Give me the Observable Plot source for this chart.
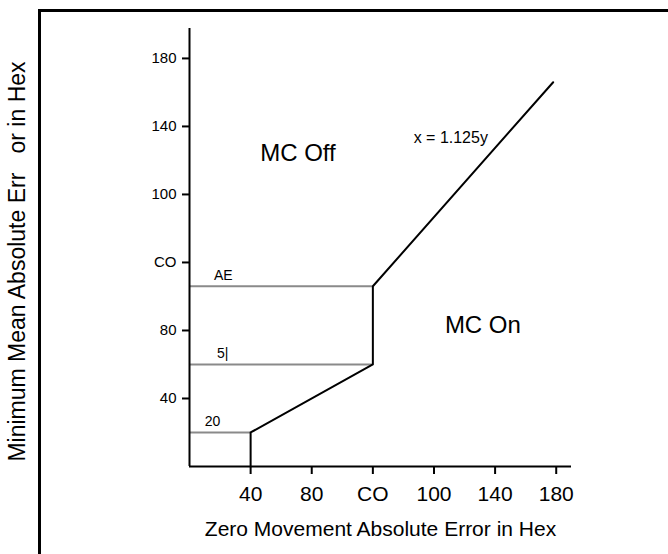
<!DOCTYPE html>
<html><head><meta charset="utf-8">
<script src="https://cdn.jsdelivr.net/npm/d3@7"></script>
<script src="https://cdn.jsdelivr.net/npm/@observablehq/plot@0.6"></script>
<style>
body{margin:0;background:#fff;}
#wrap{position:relative;width:668px;height:554px;overflow:hidden;background:#fff;}
#border{position:absolute;left:38px;top:9px;width:700px;height:600px;border-left:3px solid #000;border-top:3px solid #000;}
#chart{position:absolute;left:0;top:0;}
</style></head><body>
<div id="wrap"><div id="border"></div><div id="chart"></div></div>
<script>
// Tick positions (in chart units) and their printed labels
const xTickValues = [40, 80, 120, 160, 200, 240];
const xTickLabels = ["40", "80", "CO", "100", "140", "180"];
const yTickValues = [40, 80, 120, 160, 200, 240];
const yTickLabels = ["40", "80", "CO", "100", "140", "180"];
const xAxisTitle = "Zero Movement Absolute Error in Hex";
const yAxisTitle = ["Minimum Mean Absolute Err\u00a0\u00a0\u00a0or in Hex"];

// Decision boundary polyline
const boundaryX = [40, 40, 120, 120, 238];
const boundaryY = [0, 20, 60, 106, 226];

// Threshold levels (gray horizontal lines) and labels
const levelY = [20, 60, 106];
const levelXEnd = [40, 120, 120];
const levelLabels = ["20", "5|", "AE"];
const levelLabelX = [10, 18, 16];

// Region labels
const regionLabels = ["MC Off", "MC On"];
const regionX = [71, 192];
const regionY = [184, 83];

// Equation label
const eqLabels = ["x = 1.125y"];
const eqX = [171];
const eqY = [193];

const font = "'Liberation Sans', Arial, sans-serif";
const boundary = boundaryX.map((x, i) => ({x, y: boundaryY[i]}));
const levels = levelY.map((y, i) => ({y, x2: levelXEnd[i], label: levelLabels[i], lx: levelLabelX[i]}));
const regions = regionLabels.map((t, i) => ({t, x: regionX[i], y: regionY[i]}));
const eqs = eqLabels.map((t, i) => ({t, x: eqX[i], y: eqY[i]}));

const chart = Plot.plot({
  width: 668, height: 554,
  marginLeft: 189, marginRight: 97, marginTop: 28, marginBottom: 88,
  style: {fontFamily: font, background: "transparent", color: "#000"},
  x: {domain: [0, 250]},
  y: {domain: [0, 257.6]},
  marks: [
    Plot.ruleY(levels, {y: "y", x1: 0, x2: "x2", stroke: "#8a8a8a", strokeWidth: 2}),
    Plot.line(boundary, {x: "x", y: "y", stroke: "#000", strokeWidth: 2}),
    Plot.ruleX([0], {stroke: "#000", strokeWidth: 2}),
    Plot.ruleY([0], {stroke: "#000", strokeWidth: 2}),
    Plot.text(levels, {x: "lx", y: "y", text: "label", textAnchor: "start", dy: -11, fontSize: 14, fill: "#000"}),
    Plot.text(regions, {x: "x", y: "y", text: "t", fontSize: 24, fill: "#000"}),
    Plot.text(eqs, {x: "x", y: "y", text: "t", fontSize: 16, fill: "#000"}),
    Plot.axisX({ticks: xTickValues, tickFormat: d => xTickLabels[xTickValues.indexOf(d)],
      tickSize: 8, tickPadding: 12, fontSize: 21, strokeWidth: 2,
      label: xAxisTitle, labelAnchor: "center", labelOffset: 69, labelArrow: "none"}),
    Plot.axisY({ticks: yTickValues, tickFormat: d => yTickLabels[yTickValues.indexOf(d)],
      tickSize: 7, tickPadding: 6, fontSize: 15, strokeWidth: 2, label: null}),
    Plot.text(yAxisTitle, {frameAnchor: "left", text: d => d, rotate: -90, textAnchor: "middle", lineAnchor: "middle",
      dx: -172, dy: 14, fontSize: 23, fill: "#000"})
  ]
});
document.getElementById("chart").appendChild(chart);
</script>
</body></html>
